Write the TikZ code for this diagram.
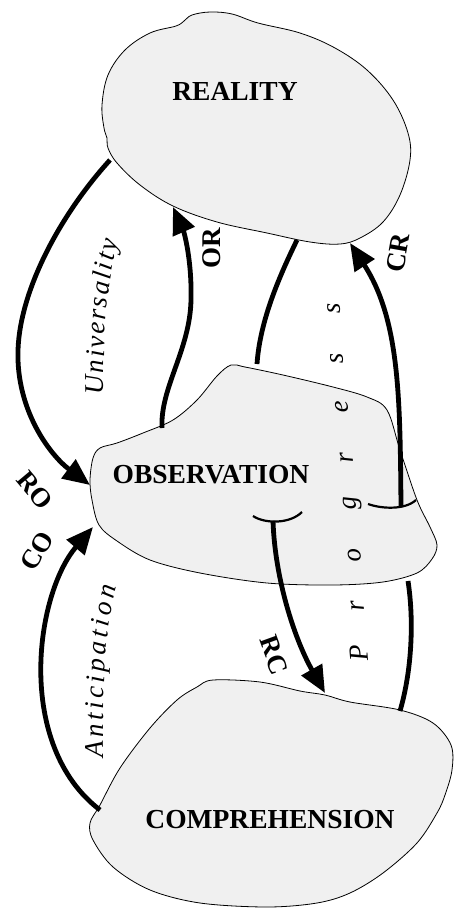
\documentclass[tikz,border=0pt]{standalone}
\usepackage{fontspec}
\setmainfont{Liberation Serif}
\usetikzlibrary{arrows.meta,decorations.markings}
\begin{document}
\begin{tikzpicture}[x=1pt,y=-1pt,
  blob/.style={draw=black, line width=0.8pt, fill=black!6},
  conn/.style={line width=4.8pt},
  arr/.style={conn, -{Triangle[length=27pt,width=23pt]}},
  capbar/.style={line width=2.2pt},
  lbl/.style={font=\fontsize{27.5}{30}\selectfont\bfseries, inner sep=0pt},
  tag/.style={font=\fontsize{27}{30}\selectfont\bfseries, inner sep=0pt},
  itl/.style={font=\fontsize{27}{29}\selectfont\itshape, inner sep=0pt},
  letter/.style={itl, anchor=base west, transform shape}]
\useasboundingbox (0,0) rectangle (454,908);

% ---------- shapes ----------
\draw[blob] plot[smooth cycle, tension=0.6] coordinates {
 (102,105) (108,75) (125,50) (150,33) (176,26) (184,21) (192,15) (210,12) (232,14)
 (258,23) (300,33) (335,48) (367,70) (393,100) (408,133) (410,160) (400,195)
 (383,222) (360,238) (340,244) (310,242) (267,233) (217,222) (173,206)
 (140,185) (117,163) (108,148) (107,138) (104,128)};

\draw[blob] plot[smooth cycle, tension=0.55] coordinates {
 (100,448) (117,443) (143,433) (173,420) (197,400) (217,376) (231,365) (245,367)
 (283,375) (333,387) (367,397) (387,410) (400,450) (417,500) (430,527)
 (437,545) (432,559) (417,573) (383,582) (333,585) (267,583) (200,573)
 (150,560) (117,541) (99,525) (92,500) (90,480) (93,458)};

\draw[blob] plot[smooth cycle, tension=0.55] coordinates {
 (197,687) (213,680) (260,682) (300,691) (325,695) (350,702) (400,710)
 (433,723) (451,745) (452,770) (445,795) (437,813) (417,843) (383,873)
 (350,893) (317,903) (267,907) (200,903) (150,890) (113,867) (93,840)
 (90,823) (100,805) (120,768) (150,728) (177,700)};

% ---------- shape labels ----------
\node[lbl] (real) at (235,91) {REALITY};
\node[lbl] (obs) at (211,475) {OBSERVATION};
\node[lbl] (comp) at (270,820) {COMPREHENSION};

% ---------- connector end points ----------
\coordinate (uS) at (110,160);  \coordinate (uE) at (90,485);
\coordinate (orS) at (162,428); \coordinate (orE) at (173,207);
\coordinate (lnS) at (297,240); \coordinate (lnE) at (257,364);
\coordinate (crS) at (401,506); \coordinate (crE) at (350,243);
\coordinate (rcS) at (273,521); \coordinate (rcE) at (325,693);
\coordinate (coS) at (100,810); \coordinate (coE) at (93,527);
\coordinate (pgS) at (400,711); \coordinate (pgE) at (408,581);
\coordinate (crL) at (368,504); \coordinate (crR) at (416,500);
\coordinate (rcL) at (253,516); \coordinate (rcR) at (302,512);

% ---------- connectors ----------
\draw[arr] (uS) .. controls (60,215) and (20,290) .. (18,350)
               .. controls (16,410) and (50,455) .. (uE);
\draw[arr] (orS) .. controls (160,388) and (190,350) .. (191,300)
                .. controls (192,260) and (184,232) .. (orE);
\draw[conn] (lnS) .. controls (280,275) and (260,320) .. (lnE);
\draw[arr] (crS) .. controls (400,400) and (400,320) .. (crE);
\draw[arr] (rcS) .. controls (275,580) and (295,640) .. (rcE);
\draw[arr] (coS) .. controls (15,745) and (35,595) .. (coE);
\draw[conn] (pgS) .. controls (412,670) and (414,620) .. (pgE);
\draw[capbar] (crL) .. controls (382,509) and (405,510) .. (crR);
\draw[capbar] (rcL) .. controls (265,524) and (290,524) .. (rcR);

% ---------- connector labels ----------
\node[tag, rotate=90]  (tOR) at (212,248) {OR};
\node[tag, rotate=80]  (tCR) at (398,253) {CR};
\node[tag, rotate=-50] (tRO) at (35,490) {RO};
\node[tag, rotate=60]  (tCO) at (37,551) {CO};
\node[tag, rotate=-70] (tRC) at (274,655) {RC};

% Universality
\path[decorate, decoration={markings,
  mark=at position 1pt with {\node[letter] (u1) {U};},
  mark=at position 22.44pt with {\node[letter] (u2) {n};},
  mark=at position 37.89pt with {\node[letter] (u3) {i};},
  mark=at position 47.35pt with {\node[letter] (u4) {v};},
  mark=at position 61.29pt with {\node[letter] (u5) {e};},
  mark=at position 75.23pt with {\node[letter] (u6) {r};},
  mark=at position 87.68pt with {\node[letter] (u7) {s};},
  mark=at position 100.13pt with {\node[letter] (u8) {a};},
  mark=at position 115.58pt with {\node[letter] (u9) {l};},
  mark=at position 125.04pt with {\node[letter] (u10) {i};},
  mark=at position 134.5pt with {\node[letter] (u11) {t};},
  mark=at position 143.96pt with {\node[letter] (u12) {y};}}]
  (104,396) .. controls (103,330) and (107,280) .. (120,236);

% Anticipation
\path[decorate, decoration={markings,
  mark=at position 0pt with {\node[letter] (a1) {A};},
  mark=at position 20.0pt with {\node[letter] (a2) {n};},
  mark=at position 37.0pt with {\node[letter] (a3) {t};},
  mark=at position 48.01pt with {\node[letter] (a4) {i};},
  mark=at position 59.02pt with {\node[letter] (a5) {c};},
  mark=at position 74.51pt with {\node[letter] (a6) {i};},
  mark=at position 85.52pt with {\node[letter] (a7) {p};},
  mark=at position 102.52pt with {\node[letter] (a8) {a};},
  mark=at position 119.52pt with {\node[letter] (a9) {t};},
  mark=at position 130.53pt with {\node[letter] (a10) {i};},
  mark=at position 141.54pt with {\node[letter] (a11) {o};},
  mark=at position 158.54pt with {\node[letter] (a12) {n};}}]
  (104,758) .. controls (103,690) and (104,630) .. (118,583);

% Progress
\node[itl, anchor=base, rotate=95] (p1) at (368,652) {P};
\node[itl, anchor=base, rotate=95] (p2) at (364,605) {r};
\node[itl, anchor=base, rotate=95] (p3) at (361,555) {o};
\node[itl, anchor=base, rotate=94] (p4) at (356,503) {g};
\node[itl, anchor=base, rotate=94] (p5) at (353,457) {r};
\node[itl, anchor=base, rotate=93] (p6) at (348,407) {e};
\node[itl, anchor=base, rotate=93] (p7) at (343,358) {s};
\node[itl, anchor=base, rotate=92] (p8) at (340,308) {s};
\end{tikzpicture}
\end{document}
